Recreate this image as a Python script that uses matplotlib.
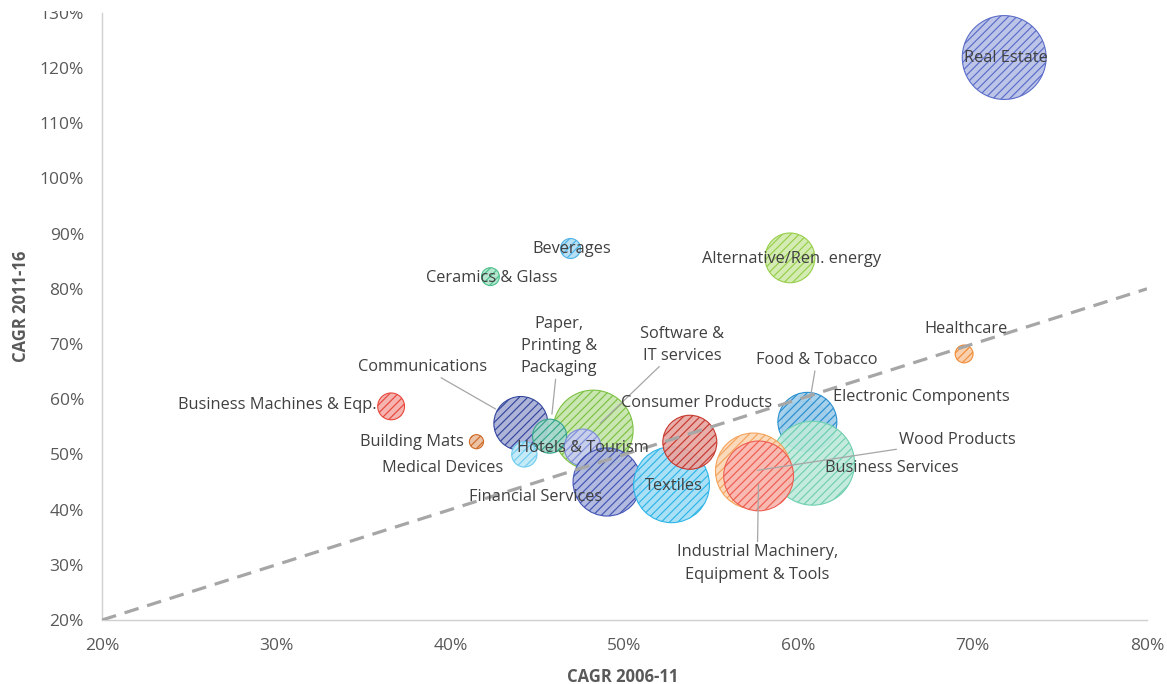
import matplotlib
matplotlib.use("Agg")
import matplotlib.pyplot as plt
import matplotlib.colors as mcolors
from matplotlib.patches import Rectangle
from matplotlib.ticker import FuncFormatter, MultipleLocator

# ---- data -------------------------------------------------------------
sectors = [
    "Real Estate", "Alternative/Ren. energy", "Beverages", "Ceramics & Glass",
    "Healthcare", "Business Machines & Eqp.", "Building Mats",
    "Software &\nIT services", "Communications", "Paper,\nPrinting &\nPackaging",
    "Medical Devices", "Hotels & Tourism", "Financial Services", "Textiles",
    "Consumer Products", "Food & Tobacco", "Electronic Components",
    "Business Services", "Wood Products",
    "Industrial Machinery,\nEquipment & Tools",
]
cagr_2006_11 = [71.8, 59.5, 46.9, 42.3, 69.5, 36.6, 41.5, 48.2, 44.05, 45.7,
                44.25, 47.6, 49.0, 52.7, 53.75, 60.4, 60.5, 60.8, 57.4, 57.7]
cagr_2011_16 = [121.9, 85.6, 87.3, 82.2, 68.2, 58.7, 52.3, 54.4, 55.6, 53.3,
                50.0, 51.25, 45.0, 44.5, 52.2, 55.3, 55.9, 48.4, 47.0, 46.1]
bubble_size = [176, 62, 10, 8, 8, 18, 5, 160, 73, 29,
               16, 34, 116, 144, 73, 58, 87, 176, 144, 122]

x_ticks = [20, 30, 40, 50, 60, 70, 80]
y_ticks = [20, 30, 40, 50, 60, 70, 80, 90, 100, 110, 120, 130]
x_title = "CAGR 2006-11"
y_title = "CAGR 2011-16"

# ---- styling ----------------------------------------------------------
colors = {
    "Real Estate": "#5B6DC9",
    "Alternative/Ren. energy": "#96CF48",
    "Beverages": "#4FB3E6",
    "Ceramics & Glass": "#4CC08C",
    "Healthcare": "#F28C38",
    "Business Machines & Eqp.": "#E8473C",
    "Building Mats": "#D06A25",
    "Software &\nIT services": "#7DC243",
    "Communications": "#34479E",
    "Paper,\nPrinting &\nPackaging": "#35A58A",
    "Medical Devices": "#6FCDF0",
    "Hotels & Tourism": "#7F8EDB",
    "Financial Services": "#4355B5",
    "Textiles": "#2DB5E8",
    "Consumer Products": "#C7382E",
    "Food & Tobacco": "#3A9AD6",
    "Electronic Components": "#2A8FD0",
    "Business Services": "#6FD0B0",
    "Wood Products": "#F5A35B",
    "Industrial Machinery,\nEquipment & Tools": "#EE5E50",
}

# label placement: offset (points) from the bubble centre, alignment,
# and leader-line shrink (None = no leader line)
label_layout = {
    "Real Estate": (1, 0, "center", None),
    "Alternative/Ren. energy": (1, -1, "center", None),
    "Beverages": (1, 0, "center", None),
    "Ceramics & Glass": (1, -1, "center", None),
    "Healthcare": (1, 18, "center", None),
    "Business Machines & Eqp.": (-10.5, 1, "right", None),
    "Building Mats": (-9.4, 0, "right", None),
    "Software &\nIT services": (64, 61.5, "center", 7),
    "Communications": (-24.5, 40.7, "right", 21),
    "Paper,\nPrinting &\nPackaging": (6.8, 64.8, "center", 16),
    "Medical Devices": (-15.5, -9.7, "right", None),
    "Hotels & Tourism": (0, 0, "center", None),
    "Financial Services": (-51.8, -10.5, "center", None),
    "Textiles": (1.5, -1, "center", None),
    "Consumer Products": (5, 28, "center", None),
    "Food & Tobacco": (8, 46.8, "center", 19),
    "Electronic Components": (18.4, 18, "left", None),
    "Business Services": (8.6, -3.6, "left", None),
    "Wood Products": (105, 22.3, "left", 3),
    "Industrial Machinery,\nEquipment & Tools": (-1, -63, "center", 6),
}

TEXT = "#404040"
AXIS_TEXT = "#595959"
plt.rcParams["font.family"] = ["Open Sans", "DejaVu Sans"]
plt.rcParams["hatch.linewidth"] = 0.85


def tint(c, amount, alpha=0.92):
    r, g, b = mcolors.to_rgb(c)
    return (r + (1 - r) * amount, g + (1 - g) * amount, b + (1 - b) * amount, alpha)


fig = plt.figure(figsize=(11.67, 6.84), dpi=100)
ax = fig.add_axes([102 / 1167, 64 / 684, 1045 / 1167, 607.2 / 684])

AREA_SCALE = 20.7  # points^2 per size unit
for name, xv, yv, sz in zip(sectors, cagr_2006_11, cagr_2011_16, bubble_size):
    col = colors[name]
    ax.scatter([xv], [yv], s=sz * AREA_SCALE, facecolor=tint(col, 0.56),
               edgecolor=col, linewidth=0.8, hatch="////", zorder=2)

# parity line
ax.plot([x_ticks[0], x_ticks[-1]], [x_ticks[0], x_ticks[-1]], color="#A6A6A6",
        lw=2.3, dashes=(4.6, 2.8), zorder=3, solid_capstyle="butt")

for name, xv, yv in zip(sectors, cagr_2006_11, cagr_2011_16):
    dx, dy, ha, shrink = label_layout[name]
    kw = {}
    if shrink is not None:
        kw["arrowprops"] = dict(arrowstyle="-", color="#A6A6A6", lw=0.9,
                                shrinkA=0, shrinkB=shrink)
    ax.annotate(name, xy=(xv, yv), xytext=(dx, dy), textcoords="offset points",
                ha=ha, va="center", multialignment="center", fontsize=11.8,
                color=TEXT, zorder=4, linespacing=1.52, **kw)

ax.set_xlim(x_ticks[0], x_ticks[-1])
ax.set_ylim(y_ticks[0], y_ticks[-1])
ax.xaxis.set_major_locator(MultipleLocator(10))
ax.yaxis.set_major_locator(MultipleLocator(10))
pct = FuncFormatter(lambda v, _: f"{v:.0f}%")
ax.xaxis.set_major_formatter(pct)
ax.yaxis.set_major_formatter(pct)
ax.tick_params(length=0, labelsize=12.5, labelcolor=AXIS_TEXT)
ax.tick_params(axis="y", pad=13)
ax.tick_params(axis="x", pad=13)
for side in ("top", "right"):
    ax.spines[side].set_visible(False)
for side in ("left", "bottom"):
    ax.spines[side].set_color("#D0D0D0")
    ax.spines[side].set_linewidth(1.0)

fig.text(623 / 1167, 1 - 677 / 684, x_title, ha="center", va="center",
         fontsize=12, fontweight="bold", color=AXIS_TEXT)
fig.text(21 / 1167, 1 - 306 / 684, y_title, ha="center", va="center",
         rotation=90, fontsize=12, fontweight="bold", color=AXIS_TEXT)

# the chart area is trimmed just above the top tick
fig.patches.append(Rectangle((0, 1 - 11 / 684), 1, 11 / 684, transform=fig.transFigure,
                             facecolor="white", edgecolor="none", zorder=10))

fig.savefig("out.png", dpi=100)
